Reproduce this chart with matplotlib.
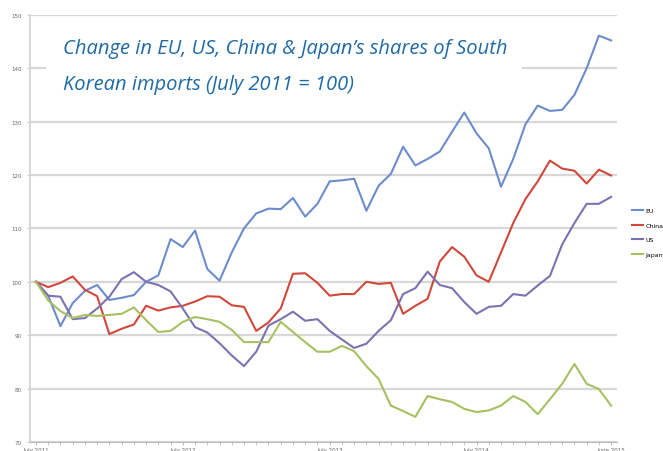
import numpy as np
from matplotlib import pyplot as plt
from matplotlib.ticker import MultipleLocator

####################################
### Data: monthly index, July 2011 = 100 (48 months to June 2015)
####################################

months = np.arange(48)

eu = [100, 97.4, 91.7, 96.0, 98.3, 99.4, 96.6, 97.0, 97.5, 100.0,
      101.2, 108.0, 106.5, 109.6, 102.4, 100.2, 105.5, 110.0, 112.8, 113.7,
      113.6, 115.7, 112.2, 114.6, 118.8, 119.0, 119.3, 113.3, 118.0, 120.2,
      125.3, 121.8, 123.0, 124.4, 128.1, 131.7, 127.8, 125.0, 117.8, 123.0,
      129.5, 133.0, 132.0, 132.2, 135.0, 140.0, 146.1, 145.2]

china = [100, 99.0, 99.8, 101.0, 98.5, 97.3, 90.2, 91.2, 92.0, 95.5,
         94.6, 95.2, 95.5, 96.3, 97.3, 97.2, 95.6, 95.3, 90.8, 92.4,
         95.0, 101.5, 101.6, 99.8, 97.4, 97.7, 97.7, 100.0, 99.6, 99.8,
         94.0, 95.5, 96.8, 103.8, 106.5, 104.7, 101.2, 100.0, 105.5, 111.0,
         115.5, 118.8, 122.7, 121.2, 120.8, 118.4, 121.0, 119.9]

us = [100, 97.4, 97.2, 93.0, 93.2, 95.0, 97.2, 100.5, 101.8, 100.0,
      99.4, 98.2, 95.0, 91.5, 90.5, 88.5, 86.2, 84.2, 86.9, 91.8,
      93.0, 94.4, 92.7, 93.0, 90.8, 89.2, 87.6, 88.4, 90.8, 92.8,
      97.7, 98.8, 101.9, 99.4, 98.8, 96.2, 94.0, 95.3, 95.5, 97.7,
      97.4, 99.3, 101.1, 107.0, 111.0, 114.6, 114.6, 115.9]

japan = [100, 96.5, 94.5, 93.2, 93.8, 93.6, 93.8, 94.0, 95.2, 92.8,
         90.6, 90.8, 92.5, 93.4, 93.0, 92.5, 91.0, 88.7, 88.7, 88.7,
         92.5, 90.6, 88.7, 86.9, 86.9, 88.0, 87.0, 84.2, 81.8, 76.8,
         75.8, 74.7, 78.6, 78.0, 77.5, 76.2, 75.6, 75.9, 76.8, 78.6,
         77.5, 75.2, 78.0, 80.9, 84.6, 80.9, 79.9, 76.8]

series_names = ["EU", "China", "US", "Japan"]
series_colors = ["#6d8ccb", "#d0483b", "#7c72b0", "#a6c062"]

tick_pos = [0, 12, 24, 36, 47]
tick_labels = ["July 2011", "July 2012", "July 2013", "July 2014", "June 2015"]
y_ticks = [70, 80, 90, 100, 110, 120, 130, 140, 150]

######################
### Create the figure
#####################

plt.rcdefaults()
fig = plt.figure(figsize=(6.63, 4.52), dpi=100)
ax = fig.add_axes([0.045, 0.02, 0.886, 0.945])

######################
### Plot the four lines
#####################

for vals, name, col in zip([eu, china, us, japan], series_names, series_colors):
    ax.plot(months, vals, color=col, lw=1.5, label=name, zorder=3)

######################
### Axes style
#####################

ax.set_xlim(-0.5, 47.5)
ax.set_ylim(70, 150)
ax.set_yticks(y_ticks)
ax.set_yticklabels([str(v) for v in y_ticks], fontsize=4, color="#666666")
ax.set_xticks(tick_pos)
ax.set_xticklabels(tick_labels, fontsize=4, color="#666666")
ax.xaxis.set_minor_locator(MultipleLocator(1))
ax.tick_params(axis="y", length=2, color="#cccccc", pad=4)
ax.tick_params(axis="x", which="both", length=2, color="#bbbbbb", pad=1.5)

ax.grid(axis="y", color="#d8d8d8", lw=1.6, zorder=0)
for side in ["top", "right"]:
    ax.spines[side].set_visible(False)
ax.spines["left"].set_color("#d0d0d0")
ax.spines["bottom"].set_color("#bbbbbb")
ax.spines["left"].set_linewidth(1.2)

######################
### Title block in a white box over the grid
#####################

box = plt.Rectangle((0.027, 0.84), 0.81, 0.155, transform=ax.transAxes,
                    facecolor="white", edgecolor="none", zorder=2)
ax.add_patch(box)

title_style = dict(transform=fig.transFigure, fontsize=14.5, style="italic",
                   color="#1f6aa6", family="Open Sans", zorder=5)
fig.text(63 / 663, 1 - 54 / 452, "Change in EU, US, China & Japan\u2019s shares of South",
         **title_style)
fig.text(63 / 663, 1 - 90 / 452, "Korean imports (July 2011 = 100)", **title_style)

######################
### Legend at the right edge
#####################

fig.legend(loc="upper left", bbox_to_anchor=(632 / 663, 1 - 209 / 452), frameon=False,
           fontsize=4.5, handlelength=1.8, labelspacing=1.45, handletextpad=0.3,
           borderaxespad=0, borderpad=0)

plt.savefig("out.png", dpi=100)
